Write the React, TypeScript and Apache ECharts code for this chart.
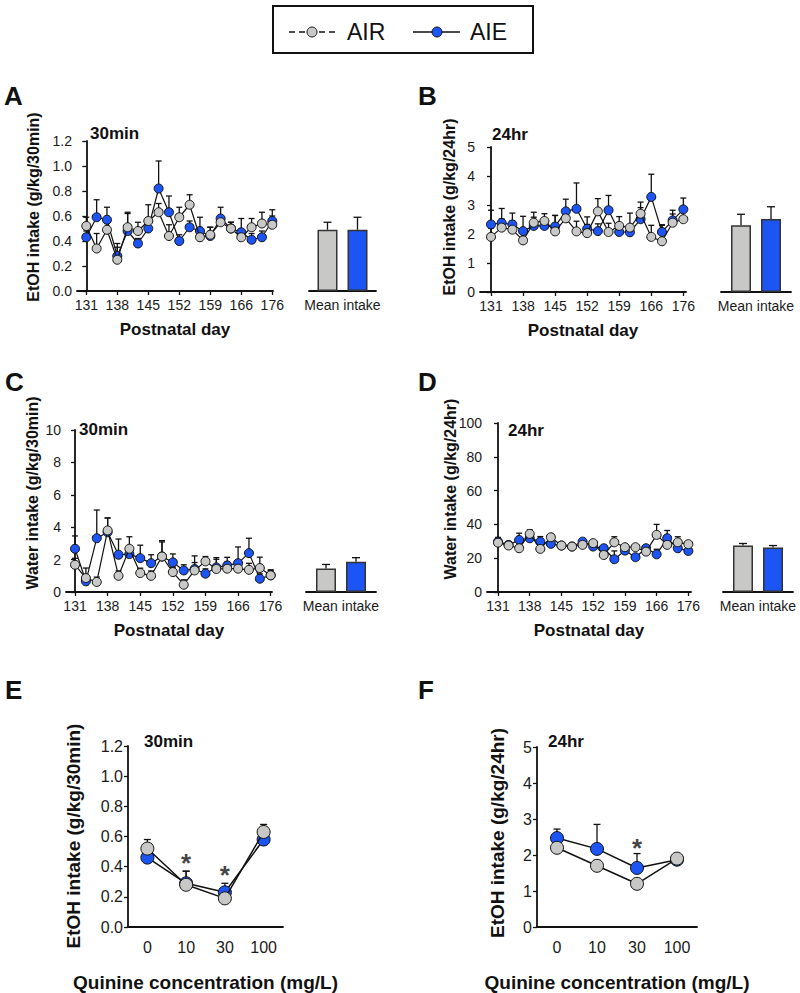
import React, { useEffect, useRef } from 'react';
import * as echarts from 'echarts';

// ---------- data ----------
const dayTickIndex = [0, 3, 6, 9, 12, 15, 18];
const dayTickLabels = ['131', '138', '145', '152', '159', '166', '176'];
const quinine = ['0', '10', '30', '100'];
const meanCategory = ['Mean intake'];

// A: EtOH 30 min
const airA = [0.52, 0.34, 0.49, 0.25, 0.51, 0.48, 0.56, 0.63, 0.44, 0.59, 0.69, 0.43, 0.45, 0.55, 0.5, 0.43, 0.51, 0.54, 0.53];
const airAErr = [0.07, 0.12, 0.05, 0.1, 0.12, 0.07, 0.13, 0.07, 0.09, 0.08, 0.08, 0.05, 0.06, 0.05, 0.05, 0.05, 0.07, 0.09, 0.07];
const aieA = [0.43, 0.59, 0.57, 0.28, 0.48, 0.38, 0.5, 0.82, 0.63, 0.4, 0.51, 0.48, 0.44, 0.58, 0.5, 0.47, 0.41, 0.43, 0.56];
const aieAErr = [0.05, 0.14, 0.1, 0.1, 0.14, 0.04, 0.05, 0.22, 0.13, 0.05, 0.05, 0.11, 0.07, 0.09, 0.05, 0.11, 0.05, 0.05, 0.09];
const meanA = { air: 0.49, airErr: 0.06, aie: 0.49, aieErr: 0.1 };

// B: EtOH 24 hr
const airB = [1.9, 2.22, 2.15, 1.78, 2.39, 2.45, 2.09, 2.54, 2.09, 2.03, 2.78, 2.07, 2.28, 2.22, 2.7, 1.9, 1.75, 2.39, 2.51];
const airBErr = [0.3, 0.3, 0.3, 0.3, 0.36, 0.25, 0.55, 0.3, 0.35, 0.3, 0.44, 0.3, 0.32, 0.5, 0.4, 0.4, 0.55, 0.3, 0.3];
const aieB = [2.33, 2.38, 2.33, 2.1, 2.28, 2.28, 2.26, 2.78, 2.87, 2.18, 2.1, 2.82, 2.07, 2.06, 2.51, 3.28, 2.07, 2.47, 2.85];
const aieBErr = [0.49, 0.5, 0.39, 0.51, 0.3, 0.25, 0.38, 0.42, 0.89, 0.41, 0.25, 0.51, 0.3, 0.25, 0.4, 0.78, 0.25, 0.35, 0.39];
const meanB = { air: 2.3, airErr: 0.38, aie: 2.52, aieErr: 0.42 };

// C: water 30 min
const airC = [1.68, 0.86, 0.62, 3.8, 1.0, 2.67, 1.17, 1.0, 2.19, 1.23, 0.45, 1.33, 1.89, 1.42, 1.44, 1.44, 1.37, 1.48, 1.03];
const airCErr = [0.4, 0.62, 0.3, 0.77, 0.3, 0.74, 0.3, 0.3, 0.98, 0.3, 0.3, 0.9, 0.3, 0.6, 0.4, 0.4, 0.4, 0.67, 0.34];
const aieC = [2.67, 0.66, 3.32, 3.69, 2.3, 2.34, 2.09, 1.78, 2.19, 1.83, 1.33, 1.42, 1.13, 1.52, 1.64, 1.78, 2.4, 0.82, 1.03];
const aieCErr = [0.79, 0.3, 1.74, 0.88, 0.97, 0.5, 0.8, 0.52, 0.9, 0.52, 0.35, 0.4, 0.3, 0.6, 0.5, 1.0, 0.92, 0.3, 0.3];
const meanC = { air: 1.45, airErr: 0.25, aie: 1.87, aieErr: 0.25 };

// D: water 24 hr
const airD = [29.2, 27.5, 25.9, 34.4, 25.5, 32.4, 27.5, 26.9, 27.9, 28.9, 21.9, 29.4, 26.5, 26.5, 23.9, 33.8, 27.9, 29.4, 28.3];
const airDErr = [2.5, 1.5, 2, 2.4, 1.5, 1.8, 1.5, 1.5, 1.5, 1.5, 2, 3.3, 1.5, 1.5, 1.5, 6.2, 1.5, 3.3, 1.5];
const aieD = [29.8, 27.9, 30.8, 31.8, 29.8, 28.5, 27.5, 26.9, 29.8, 26.9, 25.9, 19.4, 24.5, 20.6, 25.9, 22.3, 31.8, 25.9, 24.3];
const aieDErr = [2.5, 1.5, 4, 2, 3, 1.5, 1.5, 1.5, 1.5, 1.5, 1.5, 4.9, 1.5, 1.5, 1.5, 3, 4.6, 1.5, 1.5];
const meanD = { air: 27.5, airErr: 1.2, aie: 26.3, aieErr: 1.2 };

// E: quinine 30 min
const airE = [0.52, 0.28, 0.19, 0.63];
const airEErr = [0.06, 0.09, 0.05, 0.05];
const aieE = [0.46, 0.29, 0.23, 0.58];
const aieEErr = [0.05, 0.08, 0.06, 0.05];
const sigE = [[1, 0.47], [2, 0.39]];

// F: quinine 24 hr
const airF = [2.2, 1.7, 1.2, 1.9];
const airFErr = [0.15, 0.15, 0.1, 0.1];
const aieF = [2.47, 2.17, 1.64, 1.87];
const aieFErr = [0.25, 0.68, 0.4, 0.1];
const sigF = [[2, 2.38]];

// ---------- style ----------
const FONT = 'Liberation Sans, Arial, Helvetica, sans-serif';
const GREY = '#c8c8c6';
const BLUE = '#1c55f4';
const INK = '#111111';

const errRender = (offset: number, cap: number) => (params: any, api: any) => {
  const x = api.value(0);
  const p0 = api.coord([x, api.value(1)]);
  const p1 = api.coord([x, api.value(2)]);
  const cx = p0[0] + offset;
  const style = { stroke: INK, lineWidth: 1.3 };
  return {
    type: 'group',
    children: [
      { type: 'line', shape: { x1: cx, y1: p0[1], x2: cx, y2: p1[1] }, style },
      { type: 'line', shape: { x1: cx - cap / 2, y1: p1[1], x2: cx + cap / 2, y2: p1[1] }, style },
    ],
  };
};

const lineSeries = (idx: number, values: number[], color: string, size: number, z: number, width: number) => ({
  type: 'line',
  xAxisIndex: idx,
  yAxisIndex: idx,
  data: values.map((v, i) => [i, v]),
  symbol: 'circle',
  symbolSize: size,
  showSymbol: true,
  lineStyle: { color: INK, width },
  itemStyle: { color, borderColor: INK, borderWidth: 1 },
  z,
  silent: true,
});

const errSeries = (idx: number, values: number[], errs: number[], offset: number, cap: number, z: number) => ({
  type: 'custom',
  xAxisIndex: idx,
  yAxisIndex: idx,
  data: values.map((v, i) => [i, v, v + errs[i]]),
  encode: { x: 0, y: [1, 2] },
  renderItem: errRender(offset, cap),
  z,
  silent: true,
});

const barSeries = (idx: number, value: number, color: string) => ({
  type: 'bar',
  xAxisIndex: idx,
  yAxisIndex: idx,
  data: [value],
  barWidth: 20,
  barGap: '50%',
  itemStyle: { color, borderColor: '#333', borderWidth: 1.5 },
  z: 3,
  silent: true,
});

const axisLineStyle = { lineStyle: { color: INK, width: 1.8 } };

const dayAxis = (idx: number, min: number, max: number) => ({
  type: 'value',
  gridIndex: idx,
  min,
  max,
  name: 'Postnatal day',
  nameLocation: 'middle',
  nameGap: 30,
  nameTextStyle: { fontFamily: FONT, fontSize: 17, fontWeight: 'bold', color: INK },
  splitLine: { show: false },
  axisLine: axisLineStyle,
  axisTick: { customValues: dayTickIndex, length: 4, lineStyle: { color: INK, width: 1.3 } },
  axisLabel: {
    customValues: dayTickIndex,
    formatter: (v: number) => dayTickLabels[dayTickIndex.indexOf(Math.round(v))] ?? '',
    fontFamily: FONT,
    fontSize: 14,
    color: '#1a1a1a',
    margin: 7,
  },
});

const valAxis = (idx: number, max: number, interval: number, digits: number, fontSize: number, show = true) => ({
  type: 'value',
  gridIndex: idx,
  min: 0,
  max,
  interval,
  show,
  splitLine: { show: false },
  axisLine: { show: true, ...axisLineStyle },
  axisTick: { show: true, length: 4, lineStyle: { color: INK, width: 1.3 } },
  axisLabel: {
    fontFamily: FONT,
    fontSize,
    color: '#1a1a1a',
    margin: 5,
    formatter: (v: number) => v.toFixed(digits),
  },
});

const meanAxis = (idx: number) => ({
  type: 'category',
  gridIndex: idx,
  data: meanCategory,
  axisLine: axisLineStyle,
  axisTick: { show: false },
  axisLabel: { fontFamily: FONT, fontSize: 14, color: '#1a1a1a', margin: 7 },
});

const quinAxis = (idx: number) => ({
  type: 'category',
  gridIndex: idx,
  data: quinine,
  boundaryGap: true,
  name: 'Quinine concentration (mg/L)',
  nameLocation: 'middle',
  nameGap: 46,
  nameTextStyle: { fontFamily: FONT, fontSize: 19, fontWeight: 'bold', color: INK },
  axisLine: axisLineStyle,
  axisTick: { alignWithLabel: true, length: 5, lineStyle: { color: INK, width: 1.3 } },
  axisLabel: { fontFamily: FONT, fontSize: 16, color: '#1a1a1a', margin: 12 },
});

const txt = (text: string, x: number, y: number, size: number, bold = true, rotate = false) => ({
  type: 'text',
  x,
  y,
  rotation: rotate ? Math.PI / 2 : 0,
  style: {
    text,
    fill: INK,
    font: `${bold ? 'bold ' : ''}${size}px ${FONT}`,
    align: rotate ? 'center' : 'left',
    verticalAlign: 'middle',
  },
  silent: true,
});

const sigSeries = (idx: number, pts: number[][]) => ({
  type: 'scatter',
  xAxisIndex: idx,
  yAxisIndex: idx,
  data: pts,
  symbolSize: 1,
  itemStyle: { color: 'rgba(0,0,0,0)' },
  label: {
    show: true,
    formatter: '*',
    position: 'inside',
    fontFamily: FONT,
    fontSize: 26,
    fontWeight: 'bold',
    color: INK,
    textBorderWidth: 0,
    offset: [0, 7],
  },
  z: 6,
  silent: true,
});

export default function App() {
  const ref = useRef<HTMLDivElement>(null);

  useEffect(() => {
    if (!ref.current) return;
    const chart = echarts.init(ref.current, undefined, { renderer: 'svg' });

    const grid = [
      { left: 77, top: 141, width: 196, height: 150 },
      { left: 309, top: 141, width: 67, height: 150 },
      { left: 480, top: 147, width: 206, height: 145 },
      { left: 721, top: 147, width: 70, height: 145 },
      { left: 66, top: 430, width: 206, height: 162 },
      { left: 306, top: 430, width: 70, height: 162 },
      { left: 487, top: 423, width: 204, height: 169 },
      { left: 723, top: 423, width: 70, height: 169 },
      { left: 128, top: 746, width: 155, height: 187 },
      { left: 537, top: 747, width: 160, height: 184 },
    ];

    const xAxis = [
      dayAxis(0, -0.9, 18.07),
      meanAxis(1),
      dayAxis(2, -1.03, 18.25),
      meanAxis(3),
      dayAxis(4, -0.83, 18.12),
      meanAxis(5),
      dayAxis(6, -1.04, 18.25),
      meanAxis(7),
      quinAxis(8),
      quinAxis(9),
    ];

    const yAxis = [
      valAxis(0, 1.2, 0.2, 1, 14),
      valAxis(1, 1.2, 0.2, 1, 14, false),
      valAxis(2, 5, 1, 0, 14),
      valAxis(3, 5, 1, 0, 14, false),
      valAxis(4, 10, 2, 0, 14),
      valAxis(5, 10, 2, 0, 14, false),
      valAxis(6, 100, 20, 0, 14),
      valAxis(7, 100, 20, 0, 14, false),
      valAxis(8, 1.2, 0.2, 1, 16),
      valAxis(9, 5, 1, 0, 16),
    ];

    const panels: [number, number[], number[], number[], number[]][] = [
      [0, airA, airAErr, aieA, aieAErr],
      [2, airB, airBErr, aieB, aieBErr],
      [4, airC, airCErr, aieC, aieCErr],
      [6, airD, airDErr, aieD, aieDErr],
    ];
    const means = [meanA, meanB, meanC, meanD];

    const series: any[] = [];
    panels.forEach(([idx, air, airErr, aie, aieErr], k) => {
      series.push(errSeries(idx, aie, aieErr, 0, 6, 1));
      series.push(errSeries(idx, air, airErr, 0, 6, 1));
      series.push(lineSeries(idx, aie, BLUE, 9, 3, 1.2));
      series.push(lineSeries(idx, air, GREY, 9, 4, 1.2));
      const m = means[k];
      series.push(errSeries(idx + 1, [m.air], [m.airErr], -15, 8, 1));
      series.push(errSeries(idx + 1, [m.aie], [m.aieErr], 15, 8, 1));
      series.push(barSeries(idx + 1, m.air, GREY));
      series.push(barSeries(idx + 1, m.aie, BLUE));
    });

    series.push(errSeries(8, aieE, aieEErr, 0, 7, 1));
    series.push(errSeries(8, airE, airEErr, 0, 7, 1));
    series.push(lineSeries(8, aieE, BLUE, 13, 3, 1.5));
    series.push(lineSeries(8, airE, GREY, 13, 4, 1.5));
    series.push(sigSeries(8, sigE));

    series.push(errSeries(9, aieF, aieFErr, 0, 7, 1));
    series.push(errSeries(9, airF, airFErr, 0, 7, 1));
    series.push(lineSeries(9, aieF, BLUE, 13, 3, 1.5));
    series.push(lineSeries(9, airF, GREY, 13, 4, 1.5));
    series.push(sigSeries(9, sigF));

    const graphic: any[] = [
      // legend
      { type: 'rect', shape: { x: 273, y: 6, width: 260, height: 47 }, style: { fill: 'none', stroke: INK, lineWidth: 2 }, silent: true },
      { type: 'line', shape: { x1: 289, y1: 32, x2: 336, y2: 32 }, style: { stroke: INK, lineWidth: 1.3, lineDash: [6, 4] }, silent: true },
      { type: 'circle', shape: { cx: 312, cy: 32, r: 5 }, style: { fill: GREY, stroke: INK, lineWidth: 1 }, silent: true },
      txt('AIR', 347, 32, 23, false),
      { type: 'line', shape: { x1: 413, y1: 32, x2: 460, y2: 32 }, style: { stroke: INK, lineWidth: 1.3 }, silent: true },
      { type: 'circle', shape: { cx: 437, cy: 32, r: 5 }, style: { fill: BLUE, stroke: INK, lineWidth: 1 }, silent: true },
      txt('AIE', 470, 32, 23, false),
      // panel letters
      txt('A', 4, 96, 26),
      txt('B', 418, 96, 26),
      txt('C', 5, 382, 26),
      txt('D', 418, 382, 26),
      txt('E', 5, 690, 26),
      txt('F', 418, 690, 26),
      // subtitles
      txt('30min', 90, 133, 17),
      txt('24hr', 492, 134, 17),
      txt('30min', 79, 429, 17),
      txt('24hr', 508, 430, 17),
      txt('30min', 144, 741, 17),
      txt('24hr', 548, 741, 17),
      // y titles
      txt('EtOH intake (g/kg/30min)', 33, 207, 16, true, true),
      txt('EtOH intake (g/kg/24hr)', 449, 207, 16, true, true),
      txt('Water intake (g/kg/30min)', 32, 493, 16, true, true),
      txt('Water intake (g/kg/24hr)', 450, 489, 16, true, true),
      txt('EtOH intake (g/kg/30min)', 73, 836, 19, true, true),
      txt('EtOH intake (g/kg/24hr)', 497, 833, 19, true, true),
    ];

    chart.setOption({
      animation: false,
      backgroundColor: '#ffffff',
      textStyle: { fontFamily: FONT },
      grid,
      xAxis,
      yAxis,
      series,
      graphic,
    });

    return () => chart.dispose();
  }, []);

  return <div ref={ref} style={{ position: 'absolute', left: 0, top: 0, width: 800, height: 993 }} />;
}
